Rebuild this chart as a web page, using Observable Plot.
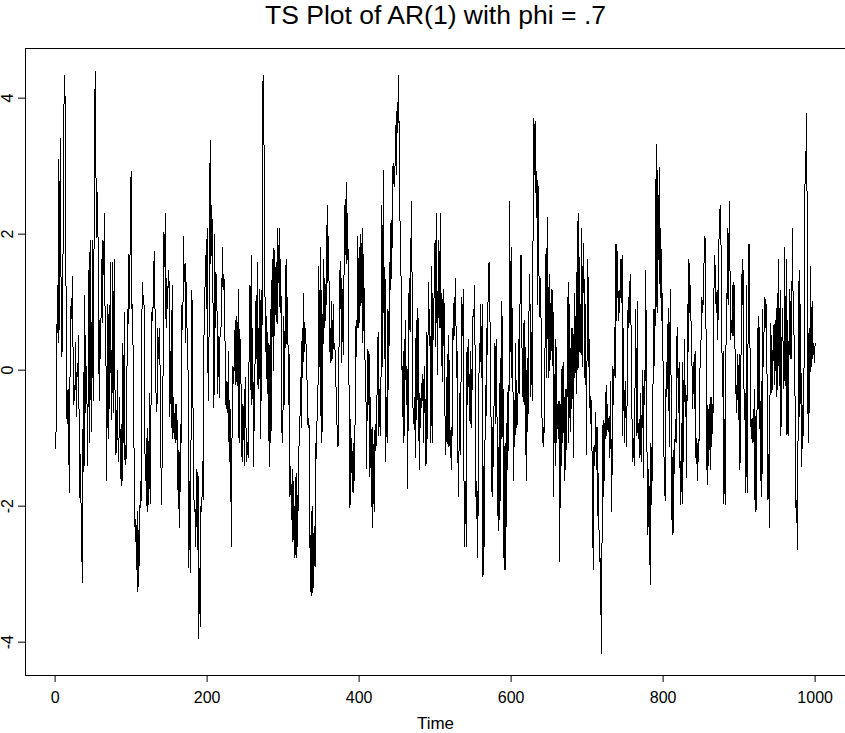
<!DOCTYPE html>
<html>
<head>
<meta charset="utf-8">
<script src="https://cdn.jsdelivr.net/npm/d3@7"></script>
<script src="https://cdn.jsdelivr.net/npm/@observablehq/plot@0.6"></script>
<style>
  html, body { margin: 0; padding: 0; background: #fff; }
  svg { display: block; }
</style>
</head>
<body>
<div id="chart"></div>
<script>
// AR(1) series values, in blocks of consecutive time steps (t = 1..1000)
const block1 = [-1.15, 0.08, 1.24, 0.4, 3.1, 0.6, 3.4, 0.7, 0.2, 0.96,
  2.8, 4.34, 4.08, 2.2, -0.59, -0.79, -0.28, -1.24, -1.8, 0.93,
  0.75, 0.96, 1.38, -0.5, -0.22, -0.45, 0.4, -0.68, 0.1, -0.1,
  0.51, -1.88, -1.24, -1.9, -2.64, -3.12, -0.03, -1.5, 1.1, -0.62,
  0.06, -0.5, -1.41, 1.46, -1.07, 1.91, -0.3, -0.9, 1.91, -0.45,
  1.24, 3.88, 4.39, 2.48, 1.95, 2.62, 1.18, -0.45, 0.73, 0.17,
  1.63, 0.7, 1.91, 1.4, 2.31, 0.23, 0.06, -1.63, 0.96, -1.01,
  0.96, -0.56, 1.58, -0.73, -0.28, 1.58, -0.62, 1.63, -0.73, -1.24,
  -1.07];
const block2 = [0.0, -1.35, -1.07, -0.4, -1.6, -0.8, -1.7, 0.4, -1.07, 0.85,
  -1.4, -1.1, -1.3, 0.9, 0.68, 1.7, 0.9, 2.3, 2.93, 0.9,
  0.96, -0.22, -1.35, -2.3, -2.19, -2.93, -2.08, -3.26, -2.36, -2.87,
  -1.63, -2.03, 0.68, 1.29, 1.0, 0.96, -1.07, -1.63,
  -1.0, -2.08, -0.85, -1.97, -0.34, -1.97, -0.85, 0.85, 0.73, 0.96,
  1.58, 1.74, -0.11, -0.4, -0.62, 0.62, 0.17, 0.62, 0.11, -1.18,
  -1.97, -1.18, -0.06, 2.03, 1.52, 2.31, 0.62, 1.35, 0.9, 1.46,
  1.29, -0.68, 0.28, -0.84, 1.24, -1.01, -0.4, -1.01, -0.51, -1.07,
  -0.51, -1.07, -2.03, -1.18, -2.31];
const block3 = [-0.8, -1.07, 1.0, 0.6, 1.97, 1.3, 1.57, 0.4, 1.29, 0.06,
  0.0, -2.9, -1.63, -2.98, -0.62, 1.18, 0.06, -1.35, -2.08,
  -2.0, -2.59, -1.46, -2.64, -1.5, -3.94, -2.92, -3.77, -1.97, -2.08,
  -1.35, -1.9, 0.68, 1.07, 1.69, 0.9, 2.08, 0.06, -0.45, 1.41,
  3.38, 1.57, 2.42, 1.97, 0.68, -0.56, 2.0, 0.62, 1.41, 0.9,
  -0.34, 0.5, -0.4, 0.51, 0.62, 0.68, 1.8, 1.18, 1.41, 1.13,
  -0.17, -0.56, -0.17, -0.62, 0.28, -1.35, -0.45, -1.41, -2.6, -0.51,
  0.06, -0.2, 0.28, 0.73, -0.22, 0.79, -0.22, 1.18, -1.07, 0.6,
  0.1, -0.4, -1.35, -0.51];
const block4 = [-0.56, -1.41, -0.11, -0.73, -1.35, -1.07, -1.29, -0.06, 1.24, -0.28,
  1.69, -0.51, 0.62, -1.41, -0.68, 0.06, 1.01, 0.17, 1.58, -0.28,
  0.39, 1.18, -1.01, 1.18, -0.45, 4.16, 4.33, 3.15, 1.24,
  0.28, 0.79, -0.34, 0.56, -0.73, -1.41, 0.9, -1.07, 1.13, 1.63,
  0.0, 1.8, 0.51, 1.41, 1.58, 0.68, 2.08, 1.29, 2.08, 0.84,
  1.63, -0.73, -1.07, -0.51, 0.79, -0.51, 1.13, 1.63, 0.39, 1.07,
  -0.51, 0.23, -1.86, -1.41, -2.19, -1.46, -2.53, -1.63, -2.76, -1.58,
  -2.76, -1.52, -2.59, -1.74, -1.07, -0.84, -0.11, -0.84, 0.62, -0.11,
  1.13, 0.28, 0.62];
const block5 = [0.4, 0.28, -0.68, -0.84, -0.7, -2.19, -3.26, -2.08, -3.32, -2.0,
  -3.2, -2.3, -2.9, -1.07, -1.3, -0.4, -0.2, 1.52, 0.06, 1.8,
  -1.07, 1.18, -0.9, 1.63, 0.62, 1.35, 0.73, 1.24, 2.42, 1.29,
  1.97, 0.28, 0.62, 0.1, 1.01, 0.17, 0.96, 0.3, 0.4, 0.06,
  -0.45, -0.84, -1.12, -1.07, 1.46, 0.9, 1.6, 0.11, 1.18, 0.23,
  1.24, 2.42, 1.7,
  2.76, 1.57, 2.3, 0.96, -0.73, -2.03, -0.73, -1.5, -1.2, -1.8,
  -1.07, -1.63, -0.28, 0.73, 0.2, 1.97, 0.62, 1.8, 0.7, 2.0,
  1.0, 2.08, 0.4, 1.7, 0.6, 0.0, -0.4, -1.45, 0.3, -0.5];
const block6 = [0.28, -1.57, -0.4, -2.0, -0.84, -2.31, -1.1, -2.08, -0.79, -1.18,
  -0.9, 0.06, 0.56, -0.96, -0.28, -0.96, 0.11, 2.42, 0.06, 2.93,
  0.17, 1.52, -1.35, -0.4, -1.07, 0.9, -0.28, 1.58, 1.18, 2.2,
  1.35, 2.93, 3.04, 2.7, 2.81, 3.6, 2.87, 3.94, 3.49, 4.33,
  3.0, 2.0, 1.52, 0.51, -0.68, 0.28, -1.07, 0.28, 0.73, -0.51,
  0.06, -1.74, 0.73, 1.35, 0.56, 1.74, 2.48, 0.73, -0.68,
  -0.79, -0.4, -1.29, 0.73, -0.73, 0.9, 0.62, -1.46, -0.34, -0.84,
  -0.2, -0.45, -0.06, -1.07, 0.06, -0.62, -1.41, 0.56, -1.01, 1.29,
  0.56, 0.9, -1.07, 1.52];
const block7 = [-1.07, 1.13, 0.45, 1.58, 1.91, 0.34, 2.31, -0.06, 0.96, 1.91,
  0.62, 2.31, 0.06, 1.13, -0.17, 1.18, 0.9, -0.68, -1.24, -0.7,
  0.23, -1.13, 0.51, -0.84, -1.29, -0.84, -1.46, 0.62, 0.45, 1.07,
  0.51, 1.35, -0.11, 0.28, -1.29, -1.86, -0.34, -1.24, -0.28,
  1.07, 0.51, 1.18, -1.63, -2.59, -1.63, -2.59, 0.34, -0.51, 0.45,
  -0.39, -0.79, 0.28, -0.84, 0.17, 0.9, 0.79, 1.24, -0.56, -2.19,
  -1.63, -2.76, -1.41, 0.39, 0.06, 0.96, -0.11, 0.96, -3.04, -1.41,
  -2.59, -0.22, -0.68, 0.62, 0.23, 1.52, 1.58, 0.9, 0.06, -1.35,
  -1.86, -0.84, -1.41, 0.39];
const block8 = [0.34, -0.79, 0.45, -2.14, -1.13, -2.36, -0.2, -1.91, 1.01, -1.01,
  0.79, -2.48, -2.93, -1.07, -2.93, -0.79, -1.46, -0.22, -1.18, 2.48,
  0.28, 1.8, -0.11, 0.9, -1.63, -0.45, -1.13, 0.39, -0.84,
  -0.79, -0.39, 0.45, -0.34, 1.52, 1.69, 0.68, -0.39, 0.68, -0.51,
  0.73, -0.68, -1.63, 0.17, -0.9, 0.23, 1.41, 0.9, -0.39, 0.56,
  -0.45, 2.42, 3.71, 2.87, 3.66, 2.25, 2.93, 0.96, 2.7, 0.79,
  1.35, 1.18, -0.06, -1.07, -0.84, -1.13, -0.39, 0.79, 1.8, -0.11,
  2.25, -0.11, 1.41, 0.0, 0.79, 1.18, 0.06, 1.18, -1.86, -0.06,
  -1.41, 0.45, -1.07, -0.51];
const block9 = [-1.0, -0.45, -2.81, -0.51, -1.41, 0.06, -1.07, 0.11, -1.63, -0.28,
  -1.46, -0.28, -0.39, 1.29, -1.07, 0.96, -0.9, 0.62, -0.56, 0.62,
  -1.29, 1.13, -0.11, 0.79, -0.34, 2.19, 0.0, 2.31, 0.28, 0.96,
  0.23, 2.08, 0.06, 1.86, 1.29, -0.11, 0.96, -1.24, 0.34,
  1.63, 0.06, 0.45, -0.79, -0.39, -0.79, -1.69, -2.93, -1.13, -1.41,
  -0.62, -1.46, -0.84, -2.14, -1.52, -2.81, -2.76, -3.38, -4.16, -1.46,
  -0.73, -1.86, -0.79, -1.01, -0.22, -0.96, -0.51, -0.9, -0.68, -1.29,
  -0.17, -2.08, -1.35, 0.06, -0.51, 0.62, -0.11, 1.86, 0.73, 1.74,
  0.73, 1.18, 0.84, 1.63];
const block10 = [1.0, 1.69, -0.96, 0.62, -1.07, -0.17, -0.62, -1.13, 0.11, 1.07,
  0.62, 1.24, 1.41, 0.39, -0.68, -1.35, -1.01, -1.41, -0.28,
  0.9, -0.96, 1.01, -1.01, -0.79, -1.29, -0.34, -1.35, -0.84, 0.0,
  -1.58, 0.0, -0.51, 1.46, 0.28, -1.58, -2.42, -1.46, -2.03, -3.15,
  -1.07, -1.97, -1.07, 0.17, 0.9, 0.06, 1.86, 3.32, 0.84, 2.93,
  1.63, 2.98, 1.07, 2.08, 0.73, 1.13, -0.06, -1.18, -1.8, -1.91,
  0.11, -0.39, 0.51, 0.9, -1.13, 0.68, 1.18, -2.19, -1.29, -2.42,
  -1.18, -1.52, -0.73, -1.07, 0.45, 0.62, -0.62, 0.11, -1.29, -1.97,
  -0.79, -1.97, 0.11, -1.35];
const block11 = [0.45, -0.68, -0.22, -1.58, 0.96, 0.28, 1.63, 0.84, 1.24, 0.51,
  0.06, -0.56, 0.11, -0.56, 0.28, -1.29, -1.01, -1.63, -1.01, -1.35,
  0.0, 0.06, 0.51, 1.07, 0.84, 1.07, 1.69, 1.97, 1.69,
  -0.84, -1.69, -0.51, -1.41, -0.51, -1.46, -0.39, -1.13, -0.51, -0.62,
  1.29, 1.69, 1.18, 0.84, 1.18, 0.45, 1.74, 2.08, 2.42, 2.03,
  0.84, -0.39, 0.28, -1.97, -0.73, -1.97, 1.13, 0.96, 2.08, 0.96,
  2.48, 1.46, 0.45, 0.73, 0.51, 1.29, 0.51, 1.24, -0.34, -0.22,
  -0.62, 0.23, -0.73, 0.23, -1.46, -0.9, 1.41, 0.96, 1.63, 0.06,
  -0.73, -0.34, -1.8, 1.24];
const block12 = [-1.8, 1.29, 1.86, 0.73, -0.51, -1.01, -0.7, -1.07, -1.0, -0.28,
  -2.08, -0.68, -2.05, 0.62, -0.56, 0.79, -0.17, -1.63, -0.17, -1.86,
  0.9, 0.06, 0.73, 1.07, 0.62, 0.96, -0.51, -1.91, -1.24, -2.31,
  0.68, -0.34, 0.51, -0.28, 0.45, 0.68, -0.22, 0.73, -0.39, 1.13,
  -0.28, 1.63, -0.22, 1.18, -0.96, 0.17, 0.9, 0.28, -0.28, 1.8,
  -0.22, 1.63, -0.96, 0.73, -0.96, 1.18, 0.17, 1.01, 0.17, 2.08,
  1.07, 0.62, 0.17, -0.84, -2.25, -1.91, -2.64, 0.68, 1.46, -0.68,
  0.96, -1.41, -1.07, -0.51, -0.96, 1.63, 3.21, 2.93, 3.77, 0.11,
  -1.07, 0.62, -0.62, 1.52, 0.06, 1.01, 0.17, 0.39, 0.11, 0.39];

const xTicks = [0, 200, 400, 600, 800, 1000];
const yTicks = [-4, -2, 0, 2, 4];
const titleText = "TS Plot of AR(1) with phi = .7";
const xLabel = "Time";

const series = [].concat(block1, block2, block3, block4, block5, block6,
                         block7, block8, block9, block10, block11, block12);
const data = series.map((v, i) => ({t: i + 1, v}));

// R-style 4% padding around the data range
const n = data.length;
const xPad = (n - 1) * 0.04;
const font = "'Liberation Sans', Arial, Helvetica, sans-serif";

const chart = Plot.plot({
  width: 845,
  height: 733,
  marginLeft: 25,
  marginRight: 0,
  marginTop: 48,
  marginBottom: 58,
  style: {fontFamily: font, background: "#fff", color: "#000", overflow: "visible"},
  x: {domain: [1 - xPad, n + xPad]},
  y: {domain: [-4.49, 4.73]},
  marks: [
    Plot.line(data, {x: "t", y: "v", stroke: "black", strokeWidth: 1, shapeRendering: "crispEdges"}),
    Plot.frame({stroke: "black", strokeWidth: 1, shapeRendering: "crispEdges"}),
    Plot.axisX({ticks: xTicks, tickSize: 7, tickPadding: 9, fontSize: 16, tickFormat: d => String(d), label: null}),
    Plot.axisY({ticks: yTicks, tickSize: 7, tickFormat: () => "", label: null}),
    Plot.text(yTicks, {x: 1 - xPad, y: d => d, text: d => String(d), rotate: -90, dx: -18, fontSize: 16}),
    Plot.text([titleText], {frameAnchor: "top", lineAnchor: "middle", dy: -33, fontSize: 26.5}),
    Plot.text([xLabel], {frameAnchor: "bottom", lineAnchor: "middle", dy: 48, fontSize: 17})
  ]
});
document.getElementById("chart").appendChild(chart);
</script>
</body>
</html>
